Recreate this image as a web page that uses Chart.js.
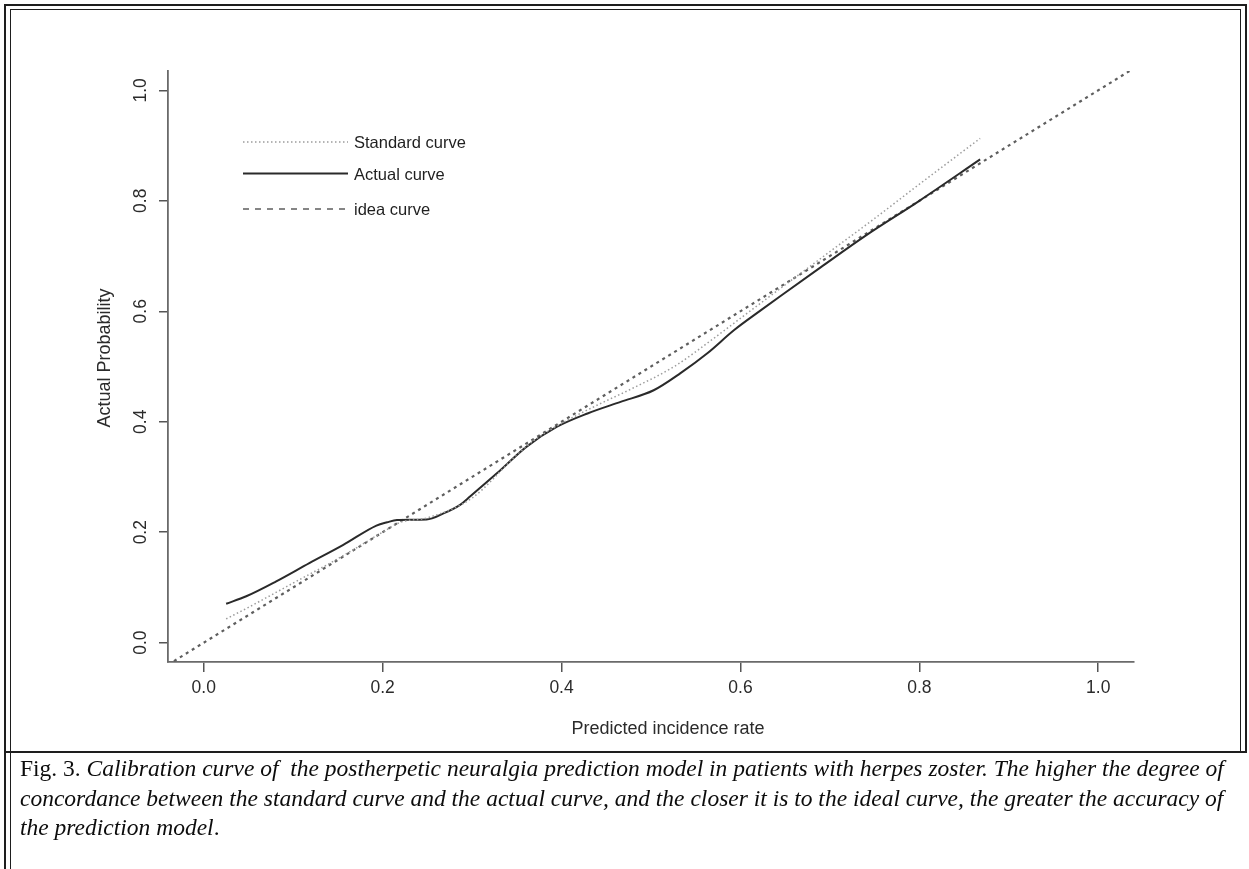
<!DOCTYPE html>
<html>
<head>
<meta charset="utf-8">
<script src="https://cdn.jsdelivr.net/npm/chart.js@4.4.1/dist/chart.umd.min.js"></script>
<style>
  html, body { margin: 0; padding: 0; background: #fff; }
  body { width: 1249px; height: 869px; position: relative; overflow: hidden; }
  #wrap { position: absolute; left: 0; top: 0; width: 1249px; height: 752px; }
  .ln { position: absolute; background: #1e1e1e; }
  #caption {
    position: absolute; left: 20px; top: 754px;
    font-family: "Liberation Serif", "DejaVu Serif", serif;
    font-size: 23.5px; line-height: 29.5px; color: #0c0c0c; white-space: nowrap;
  }
</style>
</head>
<body>
<div id="wrap"><canvas id="calib" width="1249" height="752"></canvas></div>

<!-- frame -->
<div class="ln" style="left:4px;top:4px;width:2px;height:865px"></div>
<div class="ln" style="left:10px;top:9px;width:1px;height:860px"></div>
<div class="ln" style="left:4px;top:4px;width:1243px;height:2px"></div>
<div class="ln" style="left:10px;top:9px;width:1231px;height:1px"></div>
<div class="ln" style="left:1245px;top:4px;width:2px;height:749px"></div>
<div class="ln" style="left:1240px;top:9px;width:1px;height:744px"></div>
<div class="ln" style="left:4px;top:751px;width:1243px;height:2px"></div>

<div id="caption">Fig. 3. <i>Calibration curve of&nbsp; the postherpetic neuralgia prediction model in patients with herpes zoster. The higher the degree of</i><br><i>concordance between the standard curve and the actual curve, and the closer it is to the ideal curve, the greater the accuracy of</i><br><i>the prediction model</i>.</div>

<script>
// values
const actualX = [0.025, 0.0475, 0.081, 0.118, 0.156, 0.193, 0.205, 0.216, 0.249, 0.268, 0.287, 0.298, 0.328, 0.361, 0.395, 0.429, 0.466, 0.503, 0.533, 0.563, 0.593, 0.623, 0.646, 0.69, 0.74, 0.8, 0.868];
const actualY = [0.0705, 0.084, 0.111, 0.144, 0.177, 0.212, 0.218, 0.222, 0.223, 0.234, 0.25, 0.265, 0.307, 0.355, 0.391, 0.415, 0.436, 0.457, 0.488, 0.524, 0.566, 0.602, 0.629, 0.68, 0.737, 0.80, 0.875];

const standardX = [0.025, 0.05, 0.1, 0.15, 0.2, 0.22, 0.25, 0.3, 0.35, 0.37, 0.4, 0.436, 0.48, 0.526, 0.571, 0.608, 0.646, 0.7, 0.75, 0.8, 0.868];
const standardY = [0.043, 0.064, 0.108, 0.152, 0.2, 0.218, 0.226, 0.262, 0.34, 0.367, 0.397, 0.427, 0.461, 0.5, 0.552, 0.597, 0.643, 0.708, 0.768, 0.83, 0.913];

const idealX = [-0.04, 1.04];
const idealY = [-0.04, 1.04];

const xTicks = [0, 0.2, 0.4, 0.6, 0.8, 1.0];
const yTicks = [0, 0.2, 0.4, 0.6, 0.8, 1.0];
const legendLabels = ["Standard curve", "Actual curve", "idea curve"];
const xTitle = "Predicted incidence rate";
const yTitle = "Actual Probability";

const sans = '"Liberation Sans", Arial, sans-serif';
const pts = (xs, ys) => xs.map((x, i) => ({ x: x, y: ys[i] }));

const styles = [
  { color: '#9c9c9c', width: 1.5, dash: [1.5, 2.5] },
  { color: '#2a2a2a', width: 2, dash: [] },
  { color: '#5e5e5e', width: 2.2, dash: [3, 4] }
];

// rotated y labels, axis titles and legend
const extras = {
  id: 'extras',
  afterDraw(chart) {
    const ctx = chart.ctx;
    const ys = chart.scales.y;
    ctx.save();
    ctx.fillStyle = '#2b2b2b';
    ctx.font = '17.5px ' + sans;
    ctx.textAlign = 'center';
    ctx.textBaseline = 'alphabetic';
    yTicks.forEach(v => {
      ctx.save();
      ctx.translate(146, ys.getPixelForValue(v));
      ctx.rotate(-Math.PI / 2);
      ctx.fillText(v.toFixed(1), 0, 0);
      ctx.restore();
    });
    ctx.font = '18px ' + sans;
    ctx.save();
    ctx.translate(110, 358);
    ctx.rotate(-Math.PI / 2);
    ctx.fillText(yTitle, 0, 0);
    ctx.restore();
    ctx.fillText(xTitle, 668, 734);

    // legend
    const rows = [142, 173.5, 209];
    ctx.font = '16.5px ' + sans;
    ctx.textAlign = 'left';
    legendLabels.forEach((lab, i) => {
      const s = styles[i];
      ctx.beginPath();
      ctx.strokeStyle = s.color;
      ctx.lineWidth = i === 1 ? 2.2 : 1.5;
      ctx.setLineDash(i === 2 ? [6, 6] : s.dash);
      ctx.moveTo(243, rows[i]);
      ctx.lineTo(348, rows[i]);
      ctx.stroke();
      ctx.setLineDash([]);
      ctx.fillStyle = '#1f1f1f';
      ctx.fillText(lab, 354, rows[i] + 6);
    });
    ctx.restore();
  }
};

new Chart(document.getElementById('calib'), {
  type: 'scatter',
  data: {
    datasets: [
      { label: legendLabels[0], data: pts(standardX, standardY), showLine: true, pointRadius: 0,
        borderColor: styles[0].color, borderWidth: styles[0].width, borderDash: styles[0].dash, cubicInterpolationMode: 'monotone' },
      { label: legendLabels[1], data: pts(actualX, actualY), showLine: true, pointRadius: 0,
        borderColor: styles[1].color, borderWidth: styles[1].width, cubicInterpolationMode: 'monotone' },
      { label: legendLabels[2], data: pts(idealX, idealY), showLine: true, pointRadius: 0,
        borderColor: styles[2].color, borderWidth: styles[2].width, borderDash: styles[2].dash }
    ]
  },
  options: {
    responsive: false,
    animation: false,
    layout: { padding: { left: 0, right: 115, top: 71, bottom: 0 } },
    plugins: { legend: { display: false }, tooltip: { enabled: false } },
    scales: {
      x: {
        type: 'linear', min: -0.04, max: 1.04,
        afterBuildTicks: s => { s.ticks = xTicks.map(v => ({ value: v })); },
        afterFit: s => { s.height = 90; },
        grid: { drawOnChartArea: false, drawTicks: true, tickLength: 10, color: '#555', lineWidth: 1.5 },
        border: { display: true, color: '#6a6a6a', width: 1.8 },
        ticks: { color: '#2b2b2b', padding: 6, maxRotation: 0, autoSkip: false,
          font: { family: sans, size: 17.5 }, callback: v => v.toFixed(1) }
      },
      y: {
        type: 'linear', min: -0.035, max: 1.035,
        afterBuildTicks: s => { s.ticks = yTicks.map(v => ({ value: v })); },
        afterFit: s => { s.width = 168; },
        grid: { drawOnChartArea: false, drawTicks: true, tickLength: 9, color: '#555', lineWidth: 1.5 },
        border: { display: true, color: '#6a6a6a', width: 1.8 },
        ticks: { color: 'rgba(0,0,0,0)', font: { family: sans, size: 17.5 }, autoSkip: false }
      }
    }
  },
  plugins: [extras]
});
</script>
</body>
</html>
